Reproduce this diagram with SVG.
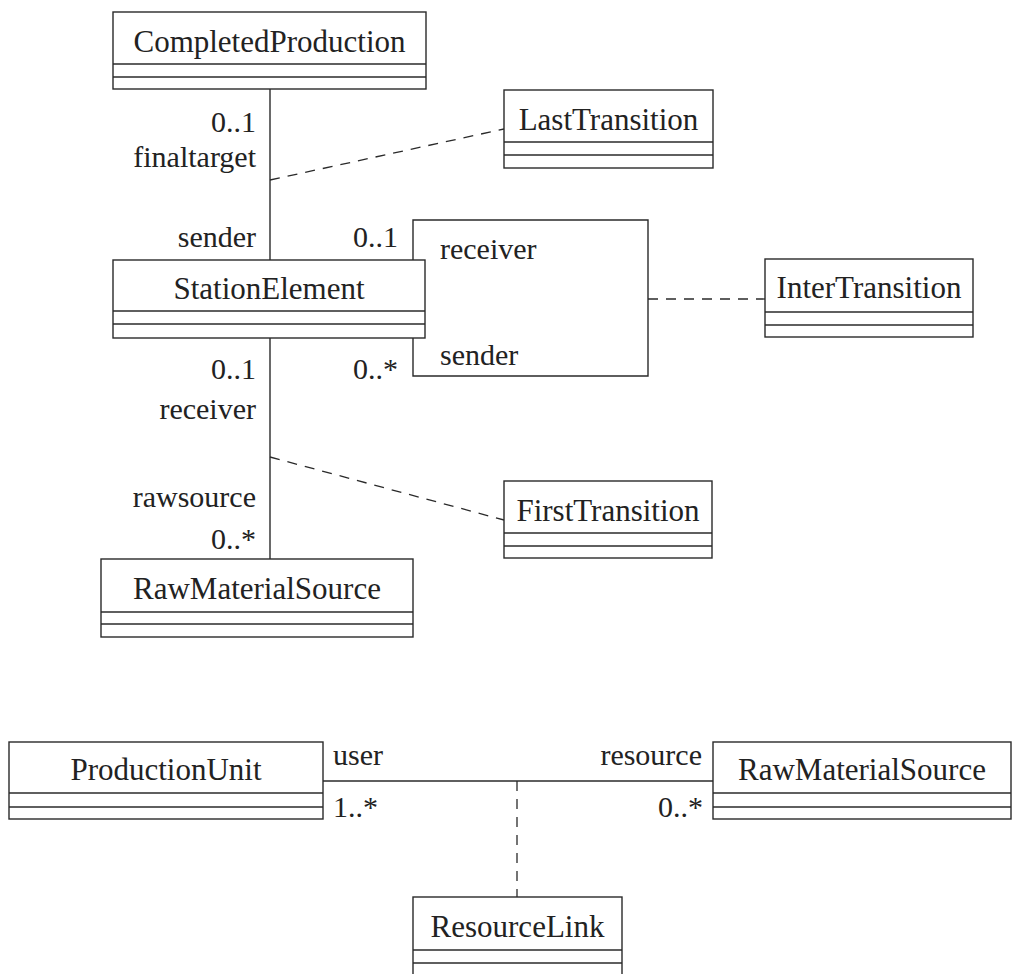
<svg xmlns="http://www.w3.org/2000/svg" width="1018" height="974" viewBox="0 0 1018 974">
<style>
.box{fill:#fff;stroke:#2a2a2a;stroke-width:1.4}
.ln{fill:none;stroke:#2a2a2a;stroke-width:1.4}
.dash{fill:none;stroke:#2a2a2a;stroke-width:1.3;stroke-dasharray:10 8}
.name{font-family:"Liberation Serif","Times New Roman",serif;font-size:31px;fill:#222;text-anchor:middle}
.lbl{font-family:"Liberation Serif","Times New Roman",serif;font-size:30px;fill:#222}
.r{text-anchor:end}
</style>
<rect width="1018" height="974" fill="#fff"/>
<g id="connectors">
<line class="ln" x1="270" y1="89" x2="270" y2="260"/>
<line class="ln" x1="270" y1="338" x2="270" y2="559"/>
<path class="ln" d="M413,260 V220 H648 V376 H413 V338"/>
<line class="ln" x1="323" y1="781" x2="713" y2="781"/>
<line class="dash" x1="270" y1="180" x2="504" y2="129"/>
<line class="dash" x1="270" y1="457" x2="504" y2="520"/>
<line class="dash" x1="648" y1="299" x2="765" y2="299"/>
<line class="dash" x1="517" y1="781" x2="517" y2="897"/>
</g>
<g id="labels">
<text class="lbl r" x="256" y="132">0..1</text>
<text class="lbl r" x="256" y="167">finaltarget</text>
<text class="lbl r" x="256" y="247">sender</text>
<text class="lbl r" x="398" y="247">0..1</text>
<text class="lbl" x="440" y="259">receiver</text>
<text class="lbl" x="440" y="365">sender</text>
<text class="lbl r" x="398" y="379">0..*</text>
<text class="lbl r" x="256" y="379">0..1</text>
<text class="lbl r" x="256" y="419">receiver</text>
<text class="lbl r" x="256" y="507">rawsource</text>
<text class="lbl r" x="256" y="549">0..*</text>
<text class="lbl" x="333" y="765">user</text>
<text class="lbl" x="333" y="817">1..*</text>
<text class="lbl r" x="702" y="765">resource</text>
<text class="lbl r" x="703" y="817">0..*</text>
</g>
<g id="CompletedProduction">
<rect class="box" x="113" y="12" width="313" height="77"/>
<line class="ln" x1="113" y1="64" x2="426" y2="64"/>
<line class="ln" x1="113" y1="77" x2="426" y2="77"/>
<text class="name" x="269.5" y="52">CompletedProduction</text>
</g>
<g id="LastTransition">
<rect class="box" x="504" y="90" width="209" height="78"/>
<line class="ln" x1="504" y1="142" x2="713" y2="142"/>
<line class="ln" x1="504" y1="155" x2="713" y2="155"/>
<text class="name" x="608.5" y="130">LastTransition</text>
</g>
<g id="StationElement">
<rect class="box" x="113" y="260" width="312" height="78"/>
<line class="ln" x1="113" y1="311" x2="425" y2="311"/>
<line class="ln" x1="113" y1="324" x2="425" y2="324"/>
<text class="name" x="269" y="299">StationElement</text>
</g>
<g id="InterTransition">
<rect class="box" x="765" y="259" width="208" height="78"/>
<line class="ln" x1="765" y1="312" x2="973" y2="312"/>
<line class="ln" x1="765" y1="325" x2="973" y2="325"/>
<text class="name" x="869" y="298">InterTransition</text>
</g>
<g id="FirstTransition">
<rect class="box" x="504" y="481" width="208" height="77"/>
<line class="ln" x1="504" y1="533" x2="712" y2="533"/>
<line class="ln" x1="504" y1="546" x2="712" y2="546"/>
<text class="name" x="608" y="521">FirstTransition</text>
</g>
<g id="RawMaterialSource1">
<rect class="box" x="101" y="559" width="312" height="78"/>
<line class="ln" x1="101" y1="612" x2="413" y2="612"/>
<line class="ln" x1="101" y1="624" x2="413" y2="624"/>
<text class="name" x="257" y="599">RawMaterialSource</text>
</g>
<g id="ProductionUnit">
<rect class="box" x="9" y="742" width="314" height="77"/>
<line class="ln" x1="9" y1="793" x2="323" y2="793"/>
<line class="ln" x1="9" y1="807" x2="323" y2="807"/>
<text class="name" x="166" y="780">ProductionUnit</text>
</g>
<g id="RawMaterialSource2">
<rect class="box" x="713" y="742" width="298" height="77"/>
<line class="ln" x1="713" y1="793" x2="1011" y2="793"/>
<line class="ln" x1="713" y1="807" x2="1011" y2="807"/>
<text class="name" x="862" y="780">RawMaterialSource</text>
</g>
<g id="ResourceLink">
<rect class="box" x="413" y="897" width="209" height="78"/>
<line class="ln" x1="413" y1="950" x2="622" y2="950"/>
<line class="ln" x1="413" y1="963" x2="622" y2="963"/>
<text class="name" x="517.5" y="937">ResourceLink</text>
</g>
</svg>
